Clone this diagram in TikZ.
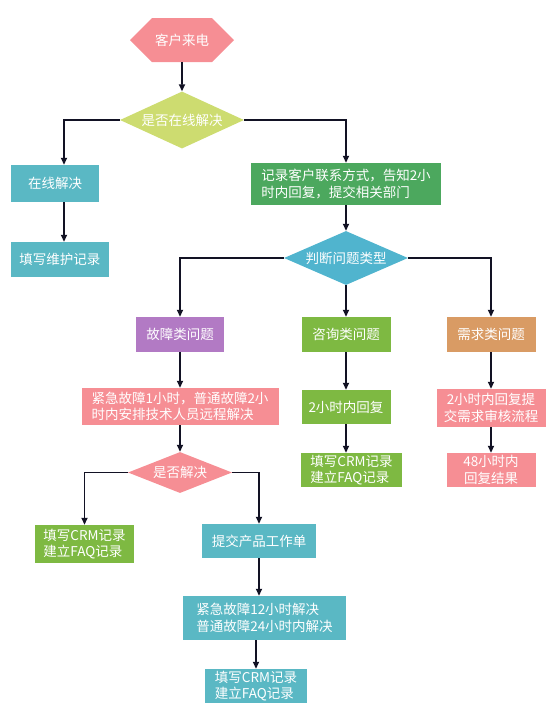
\documentclass[tikz,border=0pt]{standalone}
\usepackage{fontspec}
\newfontfamily\cjk{Noto Sans CJK SC}
\usetikzlibrary{arrows.meta,shapes.geometric,shapes.symbols}
\definecolor{pinkbox}{RGB}{246,142,148}
\definecolor{limebox}{RGB}{205,220,112}
\definecolor{cyanbox}{RGB}{90,184,196}
\definecolor{greenbox}{RGB}{76,168,94}
\definecolor{bluebox}{RGB}{80,180,206}
\definecolor{purplebox}{RGB}{178,122,196}
\definecolor{grassbox}{RGB}{126,185,66}
\definecolor{tanbox}{RGB}{217,155,100}
\definecolor{linec}{RGB}{18,18,36}

\begin{document}
\begin{tikzpicture}[x=1pt,y=-1pt,
    flowbox/.style={rectangle,inner sep=0pt,text=white,
      font=\cjk\fontsize{13.5}{16.5}\selectfont},
    decision/.style={diamond,aspect=2.2,inner sep=0pt,text=white,
      font=\cjk\fontsize{13.5}{16.5}\selectfont},
    wh/.style 2 args={minimum width=#1,minimum height=#2},
    arrow/.style={-{Triangle[length=7pt,width=6pt]},line width=1.7pt,draw=linec}
  ]
    \useasboundingbox (0,0) rectangle (555,716);
    % top
    \node[flowbox,signal,signal to=west and east,signal pointer angle=90,fill=pinkbox,
      wh={104pt}{44pt}] (call) at (182,40) {客户来电};
    \node[decision,fill=limebox,wh={124pt}{57pt}] (q1) at (182,120) {是否在线解决};
    % left branch
    \node[flowbox,fill=cyanbox,wh={88pt}{37pt}] (online) at (55,183.5) {在线解决};
    \node[flowbox,fill=cyanbox,wh={98pt}{35pt}] (maint) at (60,259.5) {填写维护记录};
    % right branch
    \node[flowbox,fill=greenbox,wh={190pt}{42pt},align=left] (record) at (346,184)
      {记录客户联系方式，告知2小\\时内回复，提交相关部门};
    \node[decision,fill=bluebox,wh={124pt}{54pt}] (q2) at (346,258) {判断问题类型};
    % three types
    \node[flowbox,fill=purplebox,wh={88pt}{35pt}] (fault) at (180,334.5) {故障类问题};
    \node[flowbox,fill=grassbox,wh={89pt}{35pt}] (consult) at (346,334.5) {咨询类问题};
    \node[flowbox,fill=tanbox,wh={89pt}{35pt}] (demand) at (491,334.5) {需求类问题};
    \node[flowbox,fill=pinkbox,wh={197pt}{37pt},align=left] (fault2) at (180,406.5)
      {紧急故障1小时，普通故障2小\\时内安排技术人员远程解决};
    \node[flowbox,fill=grassbox,wh={89pt}{34pt}] (consult2) at (346,407) {2小时内回复};
    \node[flowbox,fill=pinkbox,wh={109pt}{38pt},align=center] (demand2) at (491,408)
      {2小时内回复提\\交需求审核流程};
    \node[decision,fill=pinkbox,wh={104pt}{41pt}] (q3) at (180,472.5) {是否解决};
    \node[flowbox,fill=grassbox,wh={101pt}{34pt},align=left] (consult3) at (351.5,470)
      {填写CRM记录\\建立FAQ记录};
    \node[flowbox,fill=pinkbox,wh={89pt}{34pt},align=center] (demand3) at (491,470)
      {48小时内\\回复结果};
    % fault follow-up
    \node[flowbox,fill=grassbox,wh={99pt}{38pt},align=left] (crmL) at (84.5,544)
      {填写CRM记录\\建立FAQ记录};
    \node[flowbox,fill=cyanbox,wh={114pt}{34pt}] (ticket) at (259,541) {提交产品工作单};
    \node[flowbox,fill=cyanbox,wh={163pt}{44pt},align=left] (fix) at (264.5,618)
      {紧急故障12小时解决\\普通故障24小时内解决};
    \node[flowbox,fill=cyanbox,wh={102pt}{34pt},align=left] (crmB) at (256,686)
      {填写CRM记录\\建立FAQ记录};

    \coordinate (colA) at (64,0);
    \draw[arrow] (call) -- (q1);
    \draw[arrow] (q1.west) -| (colA |- online.north);
    \draw[arrow] (q1.east) -| (record.north);
    \draw[arrow] (colA |- online.south) -- (colA |- maint.north);
    \draw[arrow] (record) -- (q2);
    \draw[arrow] (q2.west) -| (fault.north);
    \draw[arrow] (q2) -- (consult);
    \draw[arrow] (q2.east) -| (demand.north);
    \draw[arrow] (fault) -- (fault2);
    \draw[arrow] (consult) -- (consult2);
    \draw[arrow] (demand) -- (demand2);
    \draw[arrow] (fault2) -- (q3);
    \draw[arrow] (consult2.south) -- (consult2.south |- consult3.north);
    \draw[arrow] (demand2) -- (demand3);
    \draw[arrow] (q3.west) -| (crmL.north);
    \draw[arrow] (q3.east) -| (ticket.north);
    \draw[arrow] (ticket.south) -- (ticket.south |- fix.north);
    \draw[arrow] (crmB.north |- fix.south) -- (crmB.north);
\end{tikzpicture}
\end{document}
